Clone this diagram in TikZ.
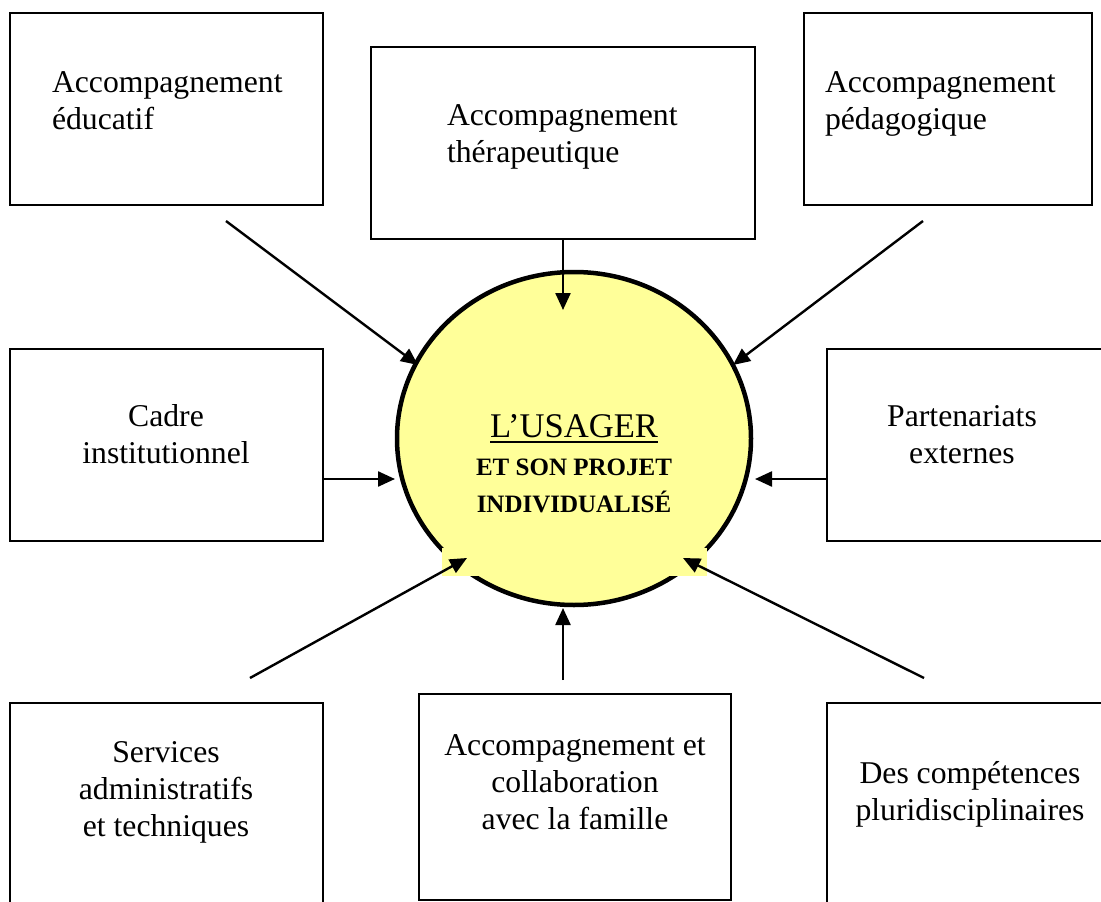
\documentclass[tikz,border=0pt]{standalone}
\usepackage{fontspec}
\setmainfont{Liberation Serif}
\usetikzlibrary{arrows.meta,shapes.geometric}
\definecolor{paleyellow}{RGB}{255,255,153}

% text lines of a box, baseline on the first line
\newcommand{\txtrows}[2]{\begin{tabular}[t]{@{}#1@{}}#2\end{tabular}}
% underlined word with a thick rule
\newcommand{\thickul}[1]{\setbox0\hbox{#1}\rlap{\copy0}\rule[-5.5pt]{\wd0}{1.8pt}}

\begin{document}
\begin{tikzpicture}[x=1pt,y=-1pt,
  box/.style={draw, line width=2pt, anchor=north west, inner sep=0pt, outer sep=0pt},
  lab/.style={inner sep=0pt, outer sep=0pt, font=\fontsize{31.7}{37}\selectfont},
  link/.style={line width=2.4pt, -{Triangle[length=17pt,width=15pt]}}]
\useasboundingbox (0,0) rectangle (1101,902);
\clip (0,0) rectangle (1101,902);

% surrounding boxes
\node[box, minimum width=313pt, minimum height=192pt] (educ)  at (10,13)  {};
\node[box, minimum width=384pt, minimum height=192pt] (thera) at (371,47) {};
\node[box, minimum width=288pt, minimum height=192pt] (peda)  at (804,13) {};
\node[box, minimum width=313pt, minimum height=192pt] (cadre) at (10,349) {};
\node[box, minimum width=300pt, minimum height=192pt] (part)  at (827,349) {};
\node[box, minimum width=313pt, minimum height=250pt] (serv)  at (10,703) {};
\node[box, minimum width=312pt, minimum height=206pt] (fam)   at (419,694) {};
\node[box, minimum width=300pt, minimum height=250pt] (comp)  at (827,703) {};

% box texts
\node[lab, anchor=base west] (educ-t)  at (52,92)   {\txtrows{l}{Accompagnement\\éducatif}};
\node[lab, anchor=base west] (thera-t) at (447,125)  {\txtrows{l}{Accompagnement\\thérapeutique}};
\node[lab, anchor=base west] (peda-t)  at (825,92)   {\txtrows{l}{Accompagnement\\pédagogique}};
\node[lab, anchor=base] (cadre-t) at (166,426) {\txtrows{c}{Cadre\\institutionnel}};
\node[lab, anchor=base] (part-t)  at (962,426) {\txtrows{c}{Partenariats\\externes}};
\node[lab, anchor=base] (serv-t)  at (166,762) {\txtrows{c}{Services\\administratifs\\et techniques}};
\node[lab, anchor=base] (fam-t)   at (575,755) {\txtrows{c}{Accompagnement et\\collaboration\\avec la famille}};
\node[lab, anchor=base] (comp-t)  at (970,783) {\txtrows{c}{Des compétences\\pluridisciplinaires}};

% central circle
\node[draw, ellipse, line width=4.5pt, fill=paleyellow, inner sep=0pt,
      minimum width=354pt, minimum height=333pt] (usager) at (574,438.5) {};
\fill[paleyellow] (442,548) rectangle (707,576);
\node[inner sep=0pt, anchor=base, font=\fontsize{34.6}{40}\selectfont] (usager-t) at (574,437) {\thickul{L’USAGER}};
\node[inner sep=0pt, anchor=base, font=\fontsize{25}{37}\selectfont\bfseries] (usager-b) at (574,475)
  {\txtrows{c}{ET SON PROJET\\INDIVIDUALISÉ}};

% arrow ends
\coordinate (s-educ) at (226,221);  \coordinate (t-educ) at (418,365);
\coordinate (t-thera) at (563,310);
\coordinate (s-peda) at (923,221);  \coordinate (t-peda) at (733,365);
\coordinate (t-cadre) at (395,479);
\coordinate (t-part) at (755,479);
\coordinate (s-serv) at (250,678);  \coordinate (t-serv) at (467,558);
\coordinate (s-fam) at (563,680);   \coordinate (t-fam) at (563,608);
\coordinate (s-comp) at (924,678);  \coordinate (t-comp) at (683,558);

% arrows towards the centre
\draw[link] (s-educ) -- (t-educ);
\draw[link] (thera.south) -- (t-thera);
\draw[link] (s-peda) -- (t-peda);
\draw[link] (cadre.east |- t-cadre) -- (t-cadre);
\draw[link] (part.west |- t-part) -- (t-part);
\draw[link] (s-serv) -- (t-serv);
\draw[link] (s-fam) -- (t-fam);
\draw[link] (s-comp) -- (t-comp);
\end{tikzpicture}
\end{document}
